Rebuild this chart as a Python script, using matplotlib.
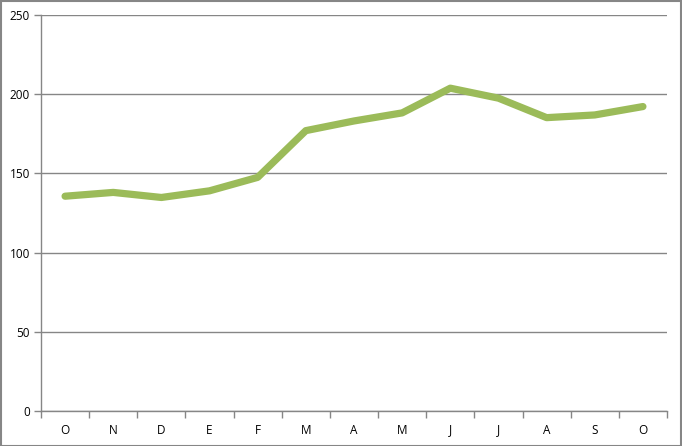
import matplotlib
matplotlib.use("Agg")
import matplotlib.pyplot as plt
from matplotlib.patches import Rectangle
import numpy as np

categories = ["O", "N", "D", "E", "F", "M", "A", "M", "J", "J", "A", "S", "O"]
values = [135.6, 138.0, 134.8, 139.0, 147.5, 177.0, 183.1, 188.2, 203.8, 197.5, 185.2, 186.9, 192.2]
yticks = [0, 50, 100, 150, 200, 250]

W, H = 682, 446
fig = plt.figure(figsize=(W / 100, H / 100), dpi=100)
ax = fig.add_axes([41 / W, (H - 411) / H, (667 - 41) / W, (411 - 15) / H])

grey = "#868686"
x = np.arange(len(categories))
ax.plot(x, values, color="#9BBB59", lw=5.2, solid_capstyle="round", solid_joinstyle="round", zorder=3)

ax.set_xlim(-0.5, len(categories) - 0.5)
ax.set_ylim(0, 250)
ax.set_yticks(yticks)
ax.set_yticklabels([str(v) for v in yticks])
ax.set_xticks(x)
ax.set_xticklabels(categories)
ax.set_xticks(np.arange(-0.5, len(categories), 1.0), minor=True)
ax.tick_params(axis="x", which="major", length=0, pad=9)
ax.tick_params(axis="x", which="minor", length=5, color=grey, width=1, direction="out")
ax.tick_params(axis="y", length=5, color=grey, width=1, direction="out", pad=3)
for lab in ax.get_xticklabels() + ax.get_yticklabels():
    lab.set_fontfamily("Open Sans")
    lab.set_fontsize(8.5)
    lab.set_color("black")

ax.grid(axis="y", color=grey, lw=1)
ax.set_axisbelow(True)
for s in ["top", "right"]:
    ax.spines[s].set_visible(False)
for s in ["left", "bottom"]:
    ax.spines[s].set_color(grey)
    ax.spines[s].set_linewidth(1)

fig.patches.append(Rectangle((0.5 / W, 0.5 / H), (W - 1.5) / W, (H - 1.5) / H, transform=fig.transFigure,
                             fill=False, edgecolor=grey, lw=1.5))

fig.savefig("out.png", dpi=100)
